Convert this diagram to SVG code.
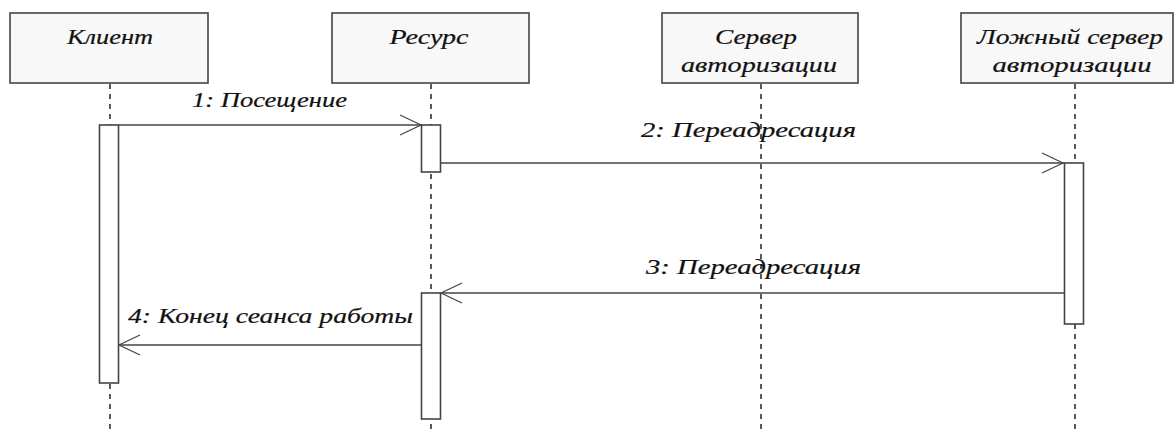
<svg xmlns="http://www.w3.org/2000/svg" width="1175" height="434" viewBox="0 0 1175 434">
<style>
.box{fill:#f8f8f8;stroke:#444;stroke-width:1.6}
.act{fill:#fff;stroke:#444;stroke-width:1.6}
.life{stroke:#222;stroke-width:1.5;stroke-dasharray:5 5;fill:none}
.msg{stroke:#444;stroke-width:1.4;fill:none}
.head{stroke:#444;stroke-width:1.2;fill:none}
text{font-family:"Liberation Serif","DejaVu Serif",serif;font-style:italic;font-size:21px;fill:#111;stroke:#111;stroke-width:0.2}
.c{text-anchor:middle}
</style>
<rect width="1175" height="434" fill="#fff"/>
<g id="lifelines">
<line class="life" x1="110" y1="84" x2="110" y2="434"/>
<line class="life" x1="431" y1="84" x2="431" y2="434"/>
<line class="life" x1="761" y1="84" x2="761" y2="434"/>
<line class="life" x1="1075" y1="84" x2="1075" y2="434"/>
</g>
<g id="client">
<rect class="box" x="10" y="13" width="198" height="70"/>
<text class="c" x="110" y="44" textLength="86" lengthAdjust="spacingAndGlyphs">Клиент</text>
<rect class="act" x="99.5" y="125" width="19" height="258"/>
</g>
<g id="resource">
<rect class="box" x="332" y="13" width="197" height="70"/>
<text class="c" x="429" y="44" textLength="79" lengthAdjust="spacingAndGlyphs">Ресурс</text>
<rect class="act" x="421.5" y="125" width="19" height="47"/>
<rect class="act" x="421.5" y="293" width="19" height="126"/>
</g>
<g id="authserver">
<rect class="box" x="662" y="13" width="196" height="70"/>
<text class="c" x="756" y="44" textLength="82" lengthAdjust="spacingAndGlyphs">Сервер</text>
<text class="c" x="759" y="72" textLength="156" lengthAdjust="spacingAndGlyphs">авторизации</text>
</g>
<g id="fakeserver">
<rect class="box" x="961" y="13" width="212" height="70"/>
<text class="c" x="1070" y="44" textLength="186" lengthAdjust="spacingAndGlyphs">Ложный сервер</text>
<text class="c" x="1072" y="72" textLength="159" lengthAdjust="spacingAndGlyphs">авторизации</text>
<rect class="act" x="1064.5" y="163" width="19" height="161"/>
</g>
<g id="connectors">
<line class="msg" x1="118.5" y1="125" x2="421" y2="125"/>
<polyline class="head" points="400,115 421,125 400,135"/>
<text x="192" y="107" textLength="155" lengthAdjust="spacingAndGlyphs">1: Посещение</text>
<line class="msg" x1="440.5" y1="163" x2="1064" y2="163"/>
<polyline class="head" points="1042,153 1063,163 1042,173"/>
<text x="641" y="137" textLength="215" lengthAdjust="spacingAndGlyphs">2: Переадресация</text>
<line class="msg" x1="1064.5" y1="293" x2="441" y2="293"/>
<polyline class="head" points="462,283 441,293 462,303"/>
<text x="646" y="274" textLength="215" lengthAdjust="spacingAndGlyphs">3: Переадресация</text>
<line class="msg" x1="421.5" y1="345" x2="119" y2="345"/>
<polyline class="head" points="140,335 119,345 140,355"/>
<text x="128" y="323" textLength="285" lengthAdjust="spacingAndGlyphs">4: Конец сеанса работы</text>
</g>
</svg>
